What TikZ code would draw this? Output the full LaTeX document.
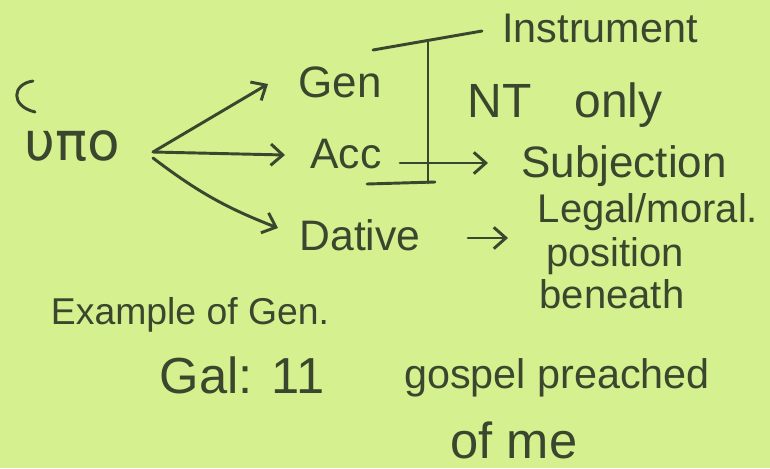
\documentclass[tikz,border=0pt]{standalone}
\usepackage{fontspec}
\setmainfont{Liberation Sans}
\newfontfamily\greekfont{DejaVu Sans}
\usetikzlibrary{arrows.meta}
\definecolor{paper}{RGB}{213,240,142}
\definecolor{ink}{RGB}{58,70,46}
\tikzset{
  hand/.style={text=ink, inner sep=0pt, anchor=center},
  pen/.style={draw=ink, line width=2.2pt, line cap=round, line join=round},
  arr/.style={pen, -{Straight Barb[length=9pt,width=16pt,line width=2.2pt]}}
}
\begin{document}
\begin{tikzpicture}[x=0.75pt,y=-0.75pt]
\fill[paper] (0,0) rectangle (770,468);
\useasboundingbox (0,0) rectangle (770,468);
% rough breathing mark
\coordinate (brA) at (33,81);
\coordinate (brB) at (35,112);
\draw[pen] (brA) .. controls (12,84) and (10,106) .. (brB);
% texts
\node[hand,font=\greekfont\fontsize{40}{44}\selectfont] (upo) at (72,146) {υπο};
\node[hand,font=\fontsize{33}{36}\selectfont] (gen) at (340,82) {Gen};
\node[hand,font=\fontsize{32}{36}\selectfont] (acc) at (346,154) {Acc};
\node[hand,font=\fontsize{32}{36}\selectfont] (dat) at (360,235) {Dative};
\node[hand,font=\fontsize{31}{36}\selectfont] (instr) at (600,28) {Instrument};
\node[hand,font=\fontsize{36}{40}\selectfont] (nt) at (565,105) {NT\hspace{0.9em}only};
\node[hand,font=\fontsize{33}{36}\selectfont] (subj) at (624,166) {Subjection};
\node[hand,font=\fontsize{30}{34}\selectfont] (legal) at (648,212) {Legal/moral.};
\node[hand,font=\fontsize{30}{34}\selectfont] (pos) at (615,256) {position};
\node[hand,font=\fontsize{30}{34}\selectfont] (ben) at (612,294) {beneath};
\node[hand,font=\fontsize{28}{32}\selectfont] (ex) at (190,315) {Example of Gen.};
\node[hand,font=\fontsize{38}{42}\selectfont] (gal) at (242,375) {Gal: 11};
\node[hand,font=\fontsize{31}{36}\selectfont] (gosp) at (557,378) {gospel preached};
\node[hand,font=\fontsize{38}{42}\selectfont] (ofme) at (514,440) {of me};
% fork
\coordinate (fork) at (153,152);
\coordinate (gtip) at (268,84);
\coordinate (atip) at (285,155);
\coordinate (dtip) at (278,228);
\draw[arr] (fork) -- (gtip);
\draw[arr] (fork) -- (atip);
\draw[arr] (153,158) to[bend right=8] (dtip);
% bracket
\coordinate (tl) at (373,50);
\coordinate (tr) at (482,31);
\coordinate (vt) at (428,42);
\coordinate (vb) at (428,183);
\coordinate (bl) at (367,184);
\coordinate (br) at (435,182);
\draw[pen] (tl) -- (tr);
\draw[pen] (vt) -- (vb);
\draw[pen] (bl) -- (br);
% Acc -> Subjection
\coordinate (as0) at (400,163);
\coordinate (as1) at (488,163);
\draw[arr] (as0) -- (as1);
% Dative -> position
\coordinate (dp0) at (468,238);
\coordinate (dp1) at (508,238);
\draw[arr] (dp0) -- (dp1);
\end{tikzpicture}
\end{document}
